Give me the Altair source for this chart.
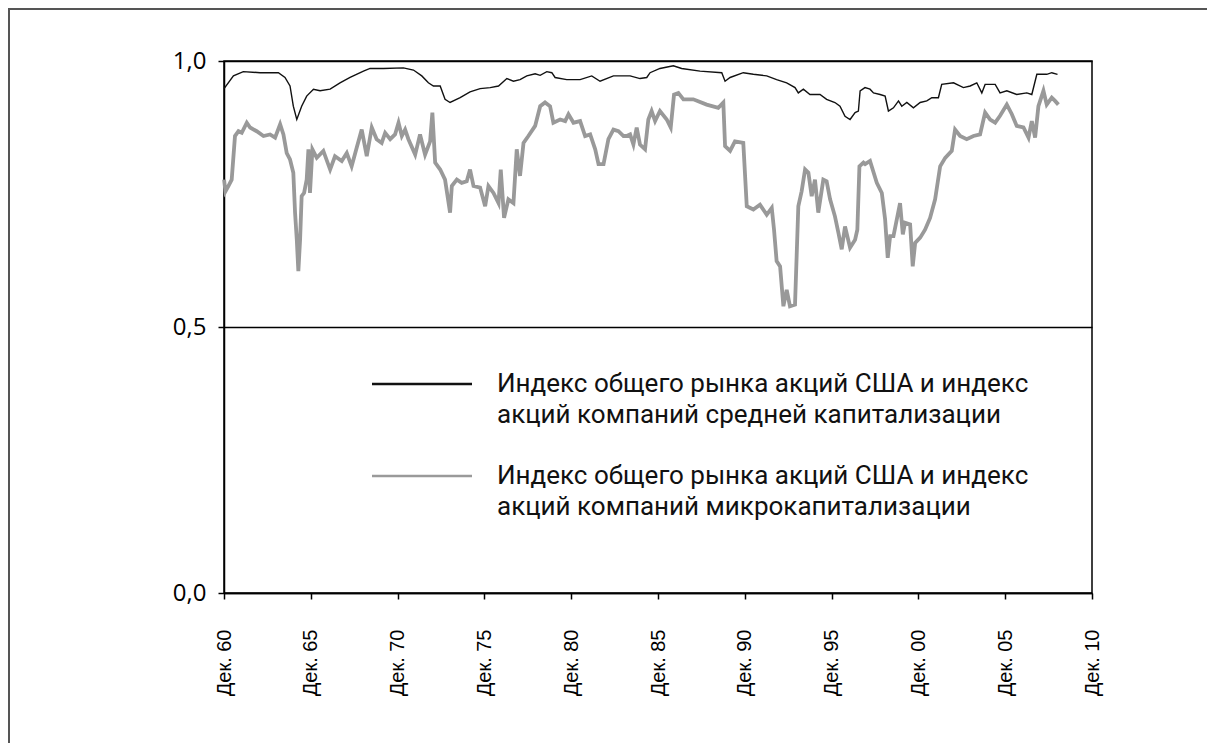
import altair as alt
import pandas as pd

# --- data (decimal years, correlation) ---
mid_years = [1960.92, 1961.46, 1962.03, 1963.0, 1964.05, 1964.43, 1964.72, 1964.91, 1965.11, 1965.39,
             1965.68, 1966.07, 1966.45, 1967.03, 1967.6, 1968.18, 1968.95, 1969.33, 1970.1, 1971.25,
             1971.83, 1972.31, 1972.69, 1972.98, 1973.37, 1973.65, 1973.94, 1974.52, 1975.09, 1975.67,
             1976.25, 1976.73, 1977.21, 1977.59, 1977.97, 1978.36, 1978.84, 1979.13, 1979.51, 1979.8,
             1979.99, 1980.66, 1981.43, 1982.1, 1982.58, 1983.35, 1984.31, 1984.88, 1985.27, 1985.46,
             1986.03, 1986.8, 1987.28, 1988.34, 1989.59, 1989.78, 1990.07, 1990.83, 1991.41, 1992.18,
             1992.75, 1993.33, 1993.81, 1994.0, 1994.29, 1994.67, 1995.25, 1995.63, 1996.11, 1996.4,
             1996.69, 1996.98, 1997.27, 1997.46, 1997.56, 1997.84, 1998.13, 1998.33, 1998.71, 1999.0,
             1999.19, 1999.48, 1999.77, 1999.96, 2000.25, 2000.63, 2001.02, 2001.4, 2001.69, 2002.07,
             2002.26, 2002.94, 2003.51, 2003.9, 2004.28, 2004.57, 2004.76, 2005.34, 2005.62, 2006.01,
             2006.58, 2007.16, 2007.45, 2007.74, 2008.31, 2008.6, 2008.93]
mid_values = [0.948, 0.972, 0.980, 0.978, 0.978, 0.969, 0.953, 0.915, 0.890, 0.915,
              0.934, 0.947, 0.944, 0.947, 0.959, 0.969, 0.981, 0.986, 0.986, 0.987,
              0.983, 0.972, 0.959, 0.953, 0.953, 0.928, 0.922, 0.931, 0.942, 0.948,
              0.950, 0.953, 0.967, 0.962, 0.965, 0.972, 0.976, 0.973, 0.980, 0.978,
              0.969, 0.965, 0.965, 0.972, 0.962, 0.972, 0.972, 0.967, 0.969, 0.978,
              0.986, 0.991, 0.986, 0.981, 0.978, 0.962, 0.969, 0.978, 0.975, 0.972,
              0.965, 0.959, 0.950, 0.940, 0.947, 0.937, 0.937, 0.928, 0.922, 0.915,
              0.896, 0.890, 0.903, 0.906, 0.944, 0.950, 0.947, 0.940, 0.937, 0.934,
              0.906, 0.912, 0.925, 0.915, 0.922, 0.912, 0.922, 0.925, 0.931, 0.931,
              0.956, 0.959, 0.950, 0.953, 0.959, 0.940, 0.956, 0.956, 0.940, 0.944,
              0.937, 0.940, 0.937, 0.975, 0.975, 0.978, 0.975]

micro_years = [1960.92, 1961.0, 1961.17, 1961.36, 1961.55, 1961.75, 1961.94, 1962.23, 1962.42, 1962.8,
               1963.19, 1963.57, 1963.86, 1964.15, 1964.34, 1964.53, 1964.72, 1964.91, 1965.01, 1965.11,
               1965.2, 1965.3, 1965.39, 1965.53, 1965.68, 1965.78, 1965.87, 1966.01, 1966.26, 1966.64,
               1967.03, 1967.31, 1967.7, 1967.99, 1968.27, 1968.56, 1968.85, 1969.14, 1969.43, 1969.71,
               1970.0, 1970.2, 1970.49, 1970.77, 1970.97, 1971.16, 1971.35, 1971.54, 1971.93, 1972.21,
               1972.5, 1972.79, 1972.92, 1973.08, 1973.37, 1973.65, 1973.94, 1974.04, 1974.33, 1974.61,
               1974.9, 1975.09, 1975.29, 1975.67, 1975.96, 1976.15, 1976.44, 1976.73, 1976.86, 1977.05,
               1977.3, 1977.59, 1977.78, 1977.97, 1978.17, 1978.45, 1978.84, 1979.13, 1979.41, 1979.7,
               1979.89, 1980.28, 1980.57, 1980.76, 1981.05, 1981.43, 1981.72, 1982.01, 1982.3, 1982.49,
               1982.78, 1983.06, 1983.35, 1983.64, 1983.93, 1984.11, 1984.31, 1984.5, 1984.69, 1984.88,
               1985.17, 1985.36, 1985.55, 1985.75, 1986.03, 1986.42, 1986.65, 1986.84, 1987.09, 1987.38,
               1987.95, 1988.72, 1989.39, 1989.68, 1989.78, 1990.07, 1990.35, 1990.83, 1991.03, 1991.41,
               1991.79, 1992.18, 1992.47, 1992.6, 1992.75, 1992.95, 1993.14, 1993.33, 1993.52, 1993.81,
               1994.0, 1994.19, 1994.39, 1994.58, 1994.77, 1994.96, 1995.15, 1995.44, 1995.63, 1995.83,
               1996.11, 1996.31, 1996.5, 1996.69, 1996.98, 1997.27, 1997.4, 1997.52, 1997.75, 1997.85,
               1998.13, 1998.52, 1998.81, 1999.0, 1999.15, 1999.29, 1999.48, 1999.67, 1999.86, 2000.02,
               2000.15, 2000.44, 2000.59, 2000.73, 2001.02, 2001.3, 2001.59, 2001.88, 2002.17, 2002.46,
               2002.84, 2003.03, 2003.32, 2003.7, 2004.09, 2004.47, 2004.76, 2005.05, 2005.34, 2005.62,
               2006.01, 2006.3, 2006.58, 2006.97, 2007.26, 2007.45, 2007.64, 2007.83, 2008.12, 2008.31,
               2008.6, 2008.79, 2008.98]
micro_values = [0.777, 0.755, 0.765, 0.777, 0.859, 0.868, 0.865, 0.884, 0.875, 0.868,
                0.859, 0.862, 0.856, 0.881, 0.862, 0.827, 0.815, 0.790, 0.715, 0.664,
                0.605, 0.664, 0.746, 0.752, 0.777, 0.834, 0.752, 0.834, 0.818, 0.831,
                0.796, 0.821, 0.812, 0.827, 0.802, 0.837, 0.871, 0.821, 0.875, 0.853,
                0.846, 0.865, 0.853, 0.862, 0.884, 0.859, 0.871, 0.853, 0.824, 0.862,
                0.824, 0.849, 0.903, 0.809, 0.796, 0.777, 0.715, 0.765, 0.777, 0.771,
                0.774, 0.796, 0.765, 0.762, 0.727, 0.765, 0.752, 0.733, 0.796, 0.705,
                0.740, 0.733, 0.834, 0.784, 0.846, 0.859, 0.878, 0.915, 0.922, 0.915,
                0.884, 0.890, 0.887, 0.900, 0.884, 0.887, 0.859, 0.862, 0.834, 0.806,
                0.806, 0.853, 0.871, 0.868, 0.859, 0.859, 0.862, 0.843, 0.875, 0.843,
                0.834, 0.890, 0.906, 0.887, 0.906, 0.890, 0.875, 0.937, 0.940, 0.928,
                0.928, 0.918, 0.912, 0.922, 0.840, 0.831, 0.849, 0.846, 0.727, 0.721,
                0.730, 0.711, 0.724, 0.683, 0.624, 0.614, 0.539, 0.570, 0.539, 0.542,
                0.727, 0.755, 0.796, 0.790, 0.746, 0.777, 0.715, 0.777, 0.774, 0.740,
                0.708, 0.677, 0.646, 0.689, 0.649, 0.664, 0.683, 0.802, 0.809, 0.806,
                0.812, 0.771, 0.752, 0.702, 0.630, 0.671, 0.671, 0.702, 0.733, 0.674,
                0.696, 0.693, 0.614, 0.658, 0.668, 0.683, 0.705, 0.740, 0.802, 0.818,
                0.831, 0.871, 0.859, 0.853, 0.859, 0.862, 0.903, 0.890, 0.884, 0.897,
                0.918, 0.900, 0.878, 0.875, 0.856, 0.887, 0.856, 0.915, 0.944, 0.918,
                0.931, 0.925, 0.918]

tick_years = [1960.917, 1965.917, 1970.917, 1975.917, 1980.917, 1985.917,
              1990.917, 1995.917, 2000.917, 2005.917, 2010.917]
tick_labels = ["Дек. 60", "Дек. 65", "Дек. 70", "Дек. 75", "Дек. 80", "Дек. 85",
               "Дек. 90", "Дек. 95", "Дек. 00", "Дек. 05", "Дек. 10"]
y_ticks = [0.0, 0.5, 1.0]

legend_mid = ["Индекс общего рынка акций США и индекс", "акций компаний средней капитализации"]
legend_micro = ["Индекс общего рынка акций США и индекс", "акций компаний микрокапитализации"]

df_mid = pd.DataFrame({"year": mid_years, "value": mid_values})
df_micro = pd.DataFrame({"year": micro_years, "value": micro_values})

label_list = "[" + ",".join("'" + s + "'" for s in tick_labels) + "]"
label_expr = label_list + "[round((datum.value - 1960.917) / 5)]"

x_enc = alt.X(
    "year:Q",
    scale=alt.Scale(domain=[1960.917, 2010.917], nice=False, zero=False),
    axis=alt.Axis(
        values=tick_years, labelExpr=label_expr, title=None, grid=False,
        labelAngle=270, labelAlign="right", labelBaseline="middle",
        labelFlush=False, labelOverlap=False,
        labelFont="Liberation Sans", labelFontSize=20, labelColor="black",
        labelPadding=30, tickSize=6, tickColor="black", tickWidth=1.5,
        domainColor="black", domainWidth=1.5,
    ),
)
y_enc = alt.Y(
    "value:Q",
    scale=alt.Scale(domain=[0, 1], nice=False),
    axis=alt.Axis(
        values=y_ticks, labelExpr="replace(format(datum.value, '.1f'), '.', ',')",
        title=None, grid=True, gridColor="black", gridWidth=1.5,
        labelFlush=False, labelOverlap=False,
        labelFont="Open Sans", labelFontSize=24, labelColor="black",
        labelPadding=12, tickSize=6, tickColor="black", tickWidth=1.5,
        domainColor="black", domainWidth=1.5,
    ),
)

micro_line = alt.Chart(df_micro).mark_line(color="#999999", strokeWidth=3.8).encode(x=x_enc, y=y_enc)
mid_line = alt.Chart(df_mid).mark_line(color="#111111", strokeWidth=1.4).encode(x=x_enc, y=y_enc)

dummy = alt.Data(values=[{"k": 1}])
LEG_FONT = "Roboto"

leg_rule_mid = alt.Chart(dummy).mark_rule(color="#111111", strokeWidth=2.5).encode(
    x=alt.value(148), x2=alt.value(248), y=alt.value(323))
leg_rule_micro = alt.Chart(dummy).mark_rule(color="#9a9a9a", strokeWidth=2.5).encode(
    x=alt.value(148), x2=alt.value(248), y=alt.value(415))
leg_text_mid = alt.Chart(dummy).mark_text(
    text=legend_mid, align="left", baseline="middle", font=LEG_FONT, fontSize=26,
    lineHeight=31, color="#111111").encode(x=alt.value(273), y=alt.value(323))
leg_text_micro = alt.Chart(dummy).mark_text(
    text=legend_micro, align="left", baseline="middle", font=LEG_FONT, fontSize=26,
    lineHeight=31, color="#111111").encode(x=alt.value(273), y=alt.value(415))

# outer frame of the figure (left and top edges)
frame_left = alt.Chart(dummy).mark_rule(color="#555555", strokeWidth=2).encode(
    x=alt.value(-215), y=alt.value(-53), y2=alt.value(690))
frame_top = alt.Chart(dummy).mark_rule(color="#555555", strokeWidth=2).encode(
    x=alt.value(-216), x2=alt.value(990), y=alt.value(-52))

chart = alt.layer(
    micro_line, mid_line, leg_rule_mid, leg_rule_micro, leg_text_mid, leg_text_micro,
    frame_left, frame_top,
).properties(
    width=868, height=532,
    autosize=alt.AutoSizeParams(type="none"),
    padding={"left": 216, "top": 53, "right": 115, "bottom": 150},
    background="white",
).configure_view(
    stroke="black", strokeWidth=1.5,
)

chart.save("out.html", embed_options={"renderer": "svg", "actions": False})
